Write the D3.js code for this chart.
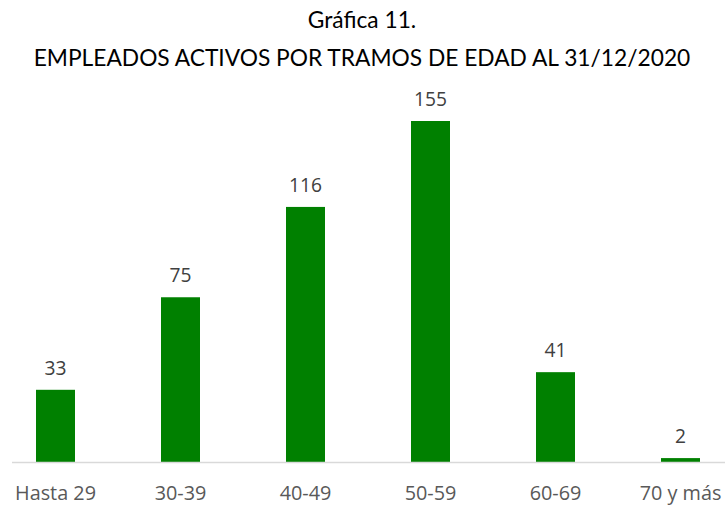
<!DOCTYPE html>
<html>
<head>
<meta charset="utf-8">
<script src="https://cdn.jsdelivr.net/npm/d3@7"></script>
<style>
  body { margin: 0; background: #fff; }
  text { font-weight: normal; }
</style>
</head>
<body>
<div id="chart"></div>
<script>
var categories = ["Hasta 29", "30-39", "40-49", "50-59", "60-69", "70 y más"];
var values = [33, 75, 116, 155, 41, 2];
var titleLines = ["Gráfica 11.", "EMPLEADOS ACTIVOS POR TRAMOS DE EDAD AL 31/12/2020"];

var W = 725, H = 506;
var baseY = 462.5;

var svg = d3.select("#chart").append("svg")
    .attr("width", W)
    .attr("height", H);

// ajusta el tamaño de letra para que el texto mida lo que en el original
function fitSize(sel, txt, target, font) {
    var t = sel.append("text").style("font-family", font).style("font-size", "20px").text(txt);
    var w = t.node().getComputedTextLength();
    t.remove();
    return 20 * target / w;
}

var titleFont = "Lato, sans-serif";
var labelFont = "'Open Sans', sans-serif";
var titleSize = fitSize(svg, titleLines[1], 657, titleFont);
var tickSize = fitSize(svg, categories[0], 81, labelFont);
var valSize = fitSize(svg, "155", 33, labelFont);

// bandas de 125 px, la primera centrada en x=55.5
var xScale = d3.scaleBand()
    .domain(categories)
    .range([-7, 743])
    .paddingInner(0.688)
    .paddingOuter(0.344);

var yScale = d3.scaleLinear()
    .domain([0, 155])
    .range([baseY, 121]);

// titulo
svg.selectAll("text.title")
    .data(titleLines)
    .enter().append("text")
    .attr("class", "title")
    .attr("x", 362)
    .attr("y", function(d, i) { return i === 0 ? 28 : 66; })
    .attr("text-anchor", "middle")
    .attr("fill", "#000")
    .style("font-family", titleFont)
    .style("font-size", titleSize + "px")
    .text(function(d) { return d; });

// barras
svg.selectAll("rect.bar")
    .data(values)
    .enter().append("rect")
    .attr("class", "bar")
    .attr("x", function(d, i) { return xScale(categories[i]); })
    .attr("width", xScale.bandwidth())
    .attr("y", function(d) { return yScale(d); })
    .attr("height", function(d) { return baseY - yScale(d); })
    .attr("fill", "#008000");

// eje x
var xAxis = d3.axisBottom(xScale).tickSize(0).tickPadding(0);
var gx = svg.append("g")
    .attr("transform", "translate(0," + baseY + ")")
    .call(xAxis);
gx.select(".domain").remove();
gx.append("line")
    .attr("x1", 12).attr("x2", W)
    .attr("stroke", "#d9d9d9")
    .attr("stroke-width", 1.3);
gx.selectAll(".tick text")
    .attr("y", 37.5)
    .attr("dy", null)
    .attr("fill", "#595959")
    .style("font-size", tickSize + "px")
    .style("font-family", labelFont);

// etiquetas de valor
svg.selectAll("text.val")
    .data(values)
    .enter().append("text")
    .attr("class", "val")
    .attr("x", function(d, i) { return xScale(categories[i]) + xScale.bandwidth() / 2; })
    .attr("y", function(d) { return yScale(d) - 15; })
    .attr("text-anchor", "middle")
    .attr("fill", "#404040")
    .style("font-family", labelFont)
    .style("font-size", valSize + "px")
    .text(function(d) { return d; });
</script>
</body>
</html>
